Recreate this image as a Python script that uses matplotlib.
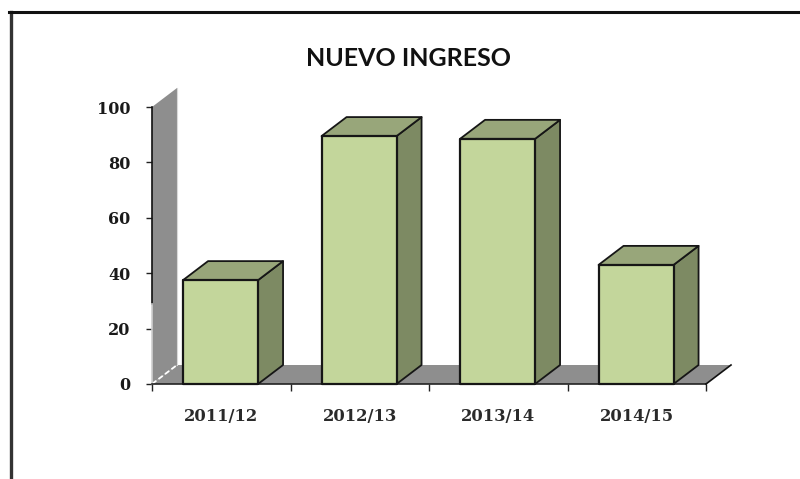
import matplotlib
matplotlib.use("Agg")
from matplotlib import pyplot as plt
from matplotlib.lines import Line2D
from matplotlib.patches import Polygon

categories = ["2011/12", "2012/13", "2013/14", "2014/15"]
values = [37.5, 89.5, 88.5, 43]
y_ticks = [0, 20, 40, 60, 80, 100]

W, H = 800, 479
fig = plt.figure(figsize=(W / 100, H / 100), dpi=100, facecolor="white")

# axes box = front plane of the fake 3D chart
ax = fig.add_axes([152 / W, 1 - 384 / H, (706 - 152) / W, (384 - 107) / H])
ax.set_xlim(0, 4)
ax.set_ylim(0, 100)
ax.patch.set_visible(False)
for s in ax.spines.values():
    s.set_visible(False)

# depth offset in data units (26 px right, 19 px up)
dx = 25 / 138.5
dy = 19 / 2.77
bar_w = 75 / 138.5
GRAY = "#8e8e8e"


def poly(pts, fc, ec="none", lw=0, z=1):
    ax.add_patch(Polygon(pts, closed=True, facecolor=fc, edgecolor=ec, linewidth=lw,
                         zorder=z, clip_on=False, joinstyle="round"))


# back wall and floor
poly([(0, 0), (dx, dy), (dx, 100 + dy), (0, 100)], GRAY)
poly([(0, 0), (4, 0), (4 + dx, dy), (dx, dy)], GRAY)
ax.plot([dx, dx], [dy, 100 + dy], color="#d9d9d9", lw=0.8, zorder=1.1, clip_on=False)
ax.plot([0, dx], [0, dy], color="white", lw=1.3, ls=(0, (3, 1.5)), zorder=1.2, clip_on=False)

# axis lines
ax.plot([0, 0], [29, 100], color="#111111", lw=1.2, zorder=2, clip_on=False)
ax.plot([0, 0], [0, 29], color="#cfcfcf", lw=1.2, zorder=2, clip_on=False)
ax.plot([0, 4], [0, 0], color="#222222", lw=1.2, zorder=2, clip_on=False)
ax.plot([4, 4 + dx], [0, dy], color="#111111", lw=1.2, zorder=2, clip_on=False)

# bars
for i, v in enumerate(values):
    x0 = i + (1 - bar_w) / 2 - 0.005
    x1 = x0 + bar_w
    z = 3 + i
    edge = "#161616"
    poly([(x1, 0), (x1 + dx, dy), (x1 + dx, v + dy), (x1, v)], "#7d8a63", edge, 1.3, z)
    poly([(x0, v), (x1, v), (x1 + dx, v + dy), (x0 + dx, v + dy)], "#98a67a", edge, 1.3, z)
    poly([(x0, 0), (x1, 0), (x1, v), (x0, v)], "#c3d69b", edge, 1.6, z + 0.1)

ax.set_xticks(range(5))
ax.set_xticklabels([])
ax.set_xticks([i + 0.5 for i in range(4)], minor=True)
ax.set_xticklabels(categories, minor=True, fontfamily="DejaVu Serif", fontweight="bold",
                   fontsize=11.8, color="#2a2a2a")
ax.set_yticks(y_ticks)
ax.set_yticklabels([str(t) for t in y_ticks], fontfamily="DejaVu Serif", fontweight="bold",
                   fontsize=11.5, color="#1a1a1a")
ax.tick_params(axis="x", which="major", length=5, width=1, color="#222222")
ax.tick_params(axis="x", which="minor", length=0, pad=17)
ax.tick_params(axis="y", length=4.5, width=1, color="#222222", pad=11)

fig.text(408 / W, 1 - 58 / H, "NUEVO INGRESO", ha="center", va="center",
         fontfamily="Lato", fontweight="bold", fontsize=18, color="#111111")

# outer frame, only top and left are in the picture
fig.add_artist(Line2D([10.5 / W, 10.5 / W], [0, 1 - 12 / H], color="#333333", lw=2.4,
                      transform=fig.transFigure))
fig.add_artist(Line2D([9 / W, 1], [1 - 12 / H, 1 - 12 / H], color="#111111", lw=2.2,
                      transform=fig.transFigure))

fig.savefig("out.png", dpi=100, facecolor="white")
